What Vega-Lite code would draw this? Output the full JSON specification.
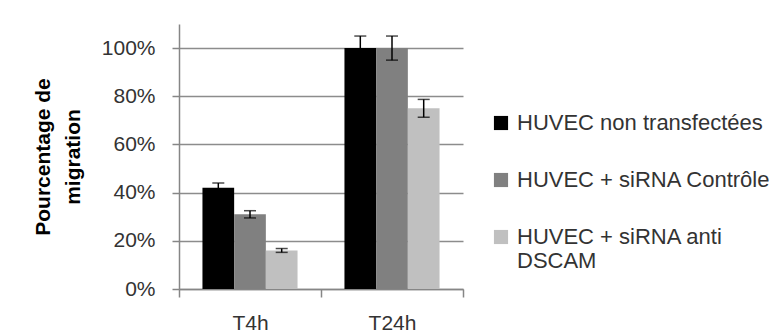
{
  "$schema": "https://vega.github.io/schema/vega-lite/v6.json",
  "width": 284,
  "height": 265,
  "autosize": {"type": "none"},
  "padding": {"left": 179, "top": 24, "right": 318, "bottom": 47},
  "background": "white",
  "config": {
    "font": "Liberation Sans",
    "view": {"stroke": null},
    "legend": {
      "orient": "none",
      "legendX": 311,
      "legendY": 88,
      "padding": 0,
      "symbolType": "square",
      "symbolSize": 200,
      "symbolStrokeWidth": 0,
      "labelFontSize": 22,
      "labelColor": "#333333",
      "labelFont": "Liberation Sans",
      "labelLimit": 400,
      "labelOffset": 5,
      "rowPadding": 35,
      "title": null
    }
  },
  "data": {
    "values": [
      {"time": "T4h", "group": "HUVEC non transfectées", "value": 0.42, "lo": 0.40, "hi": 0.44},
      {"time": "T4h", "group": "HUVEC + siRNA Contrôle", "value": 0.31, "lo": 0.295, "hi": 0.325},
      {"time": "T4h", "group": "HUVEC + siRNA anti DSCAM", "value": 0.16, "lo": 0.152, "hi": 0.168},
      {"time": "T24h", "group": "HUVEC non transfectées", "value": 1.0, "lo": 0.95, "hi": 1.05},
      {"time": "T24h", "group": "HUVEC + siRNA Contrôle", "value": 1.0, "lo": 0.95, "hi": 1.05},
      {"time": "T24h", "group": "HUVEC + siRNA anti DSCAM", "value": 0.75, "lo": 0.713, "hi": 0.787}
    ]
  },
  "encoding": {
    "x": {
      "field": "time",
      "type": "nominal",
      "sort": ["T4h", "T24h"],
      "scale": {"paddingInner": 0, "paddingOuter": 0},
      "axis": {
        "title": null,
        "labelAngle": 0,
        "labelFontSize": 21,
        "labelColor": "#333333",
        "labelPadding": 15,
        "domainColor": "#868686",
        "domainWidth": 1.5,
        "tickColor": "#868686",
        "tickWidth": 1.5,
        "tickSize": 8,
        "tickBand": "extent",
        "grid": false
      }
    },
    "xOffset": {
      "field": "group",
      "type": "nominal",
      "sort": ["HUVEC non transfectées", "HUVEC + siRNA Contrôle", "HUVEC + siRNA anti DSCAM"],
      "scale": {"paddingInner": 0, "paddingOuter": 0.74}
    }
  },
  "layer": [
    {
      "mark": {"type": "bar"},
      "encoding": {
        "y": {
          "field": "value",
          "type": "quantitative",
          "title": ["Pourcentage de", "migration"],
          "scale": {"domain": [0, 1.1], "nice": false},
          "axis": {
            "values": [0, 0.2, 0.4, 0.6, 0.8, 1.0],
            "format": ".0%",
            "labelFontSize": 21,
            "labelColor": "#333333",
            "labelPadding": 17,
            "tickSize": 7,
            "tickColor": "#868686",
            "tickWidth": 1.5,
            "domainColor": "#868686",
            "domainWidth": 1.5,
            "grid": true,
            "gridColor": "#8c8c8c",
            "gridWidth": 1.5,
            "titleFontSize": 21,
            "titleFontWeight": "bold",
            "titleColor": "#000000",
            "titleLineHeight": 30,
            "titlePadding": 18
          }
        },
        "color": {
          "field": "group",
          "type": "nominal",
          "sort": ["HUVEC non transfectées", "HUVEC + siRNA Contrôle", "HUVEC + siRNA anti DSCAM"],
          "scale": {"range": ["#000000", "#808080", "#c0c0c0"]},
          "legend": {
            "labelExpr": "datum.label == 'HUVEC + siRNA anti DSCAM' ? ['HUVEC + siRNA anti', 'DSCAM'] : datum.label"
          }
        }
      }
    },
    {
      "mark": {"type": "rule", "color": "#000000", "strokeWidth": 1.5},
      "encoding": {
        "y": {"field": "lo", "type": "quantitative", "title": ["Pourcentage de", "migration"]},
        "y2": {"field": "hi"}
      }
    },
    {
      "mark": {"type": "tick", "color": "#000000", "size": 12, "thickness": 1.5},
      "encoding": {
        "y": {"field": "hi", "type": "quantitative", "title": ["Pourcentage de", "migration"]}
      }
    },
    {
      "mark": {"type": "tick", "color": "#000000", "size": 12, "thickness": 1.5},
      "encoding": {
        "y": {"field": "lo", "type": "quantitative", "title": ["Pourcentage de", "migration"]}
      }
    }
  ]
}
